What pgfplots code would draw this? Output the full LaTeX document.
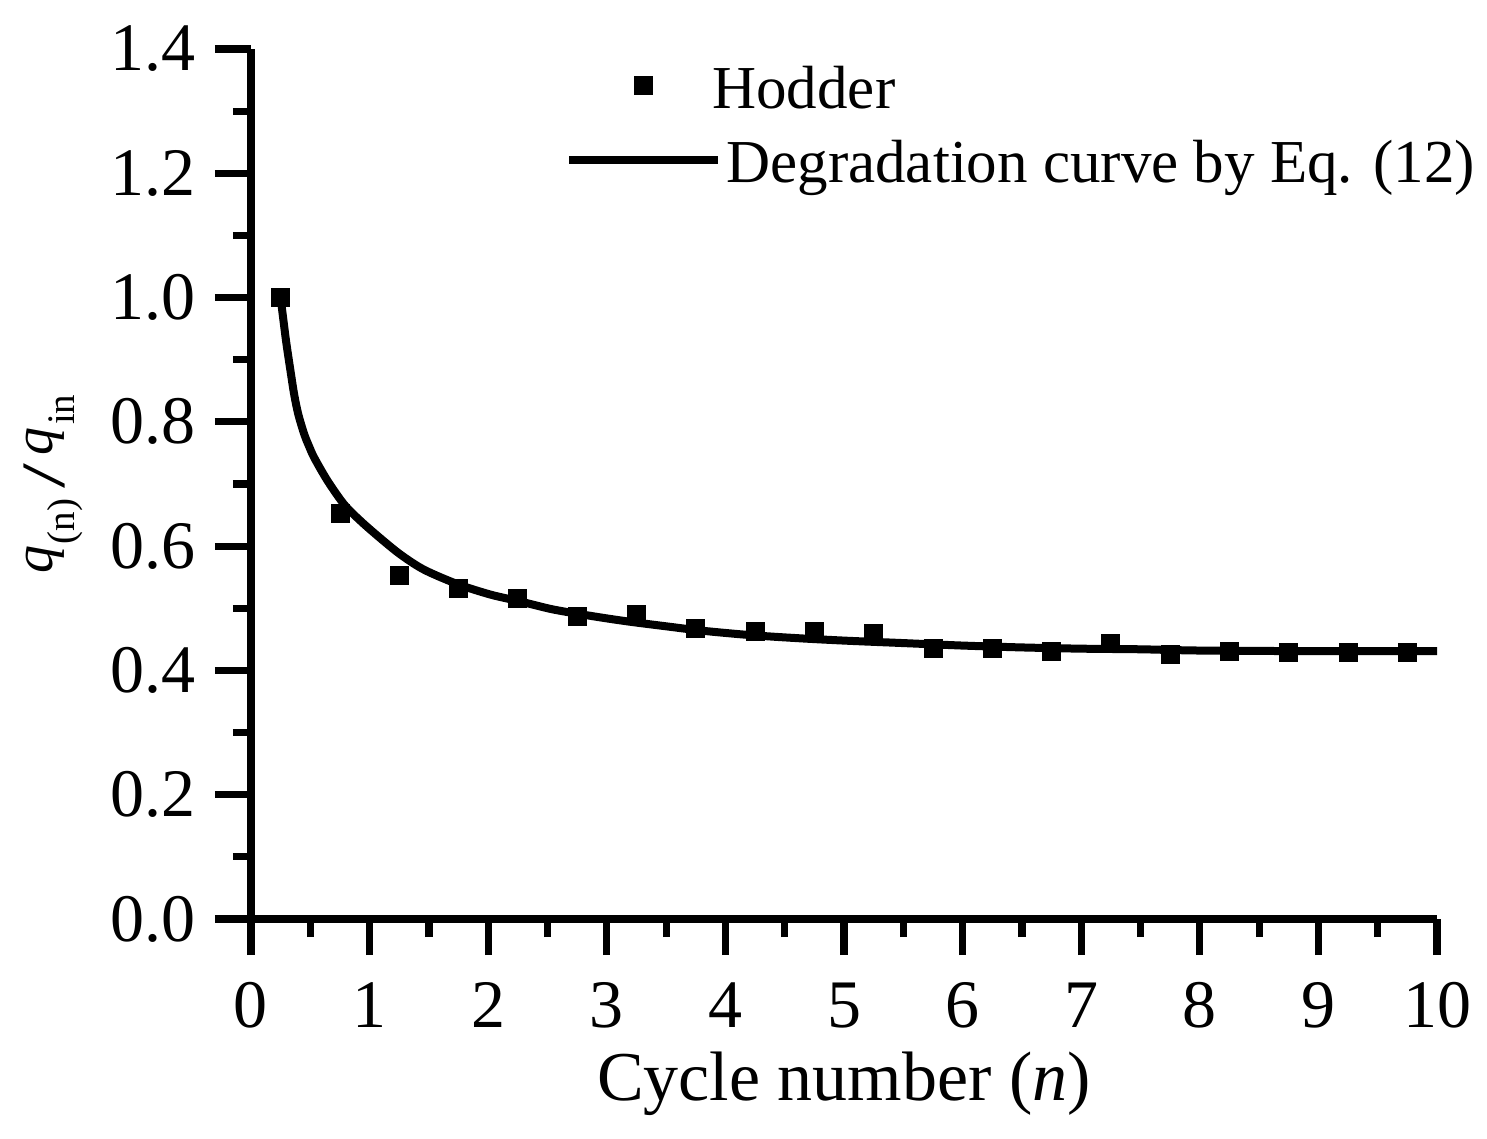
\documentclass[border=0pt]{standalone}
\usepackage{fontspec}
\setmainfont{Liberation Serif}
\usepackage{graphicx}
\usepackage{pgfplots}
\pgfplotsset{compat=1.18}
\newcommand{\sub}[1]{\raisebox{-11pt}{\fontsize{19.5}{22}\selectfont #1}}
\begin{document}
\begin{tikzpicture}
\begin{axis}[
  scale only axis, width=593pt, height=435pt,
  xmin=0, xmax=10, ymin=0, ymax=1.4,
  axis lines=left,
  axis line style={line width=3.6pt,-},
  xtick={0,1,...,10}, ytick={0,0.2,0.4,0.6,0.8,1.0,1.2,1.4},
  minor x tick num=1, minor y tick num=1,
  tick align=outside,
  major tick length=18pt, minor tick length=9pt,
  every tick/.style={line width=3.6pt,black},
  /pgf/number format/assume math mode=true,
  ticklabel style={font=\fontsize{34}{40}\selectfont, inner sep=0pt},
  yticklabel style={anchor=east, xshift=-9.5pt,
    /pgf/number format/.cd, fixed, fixed zerofill, precision=1},
  xticklabel style={anchor=base, yshift=-36pt,
    /pgf/number format/.cd, fixed, precision=0},
  xlabel={Cycle number (\textit{n})},
  xlabel style={font=\fontsize{35}{40}\selectfont, at={(rel axis cs:0.5,0)}, anchor=base, yshift=-90.5pt, inner sep=0pt},
  ylabel={\textit{q}\hspace{0.5pt}\sub{(n)}\hspace{5pt}\raisebox{-6pt}{\scalebox{1.6}[1.1]{/}}\hspace{4pt}\textit{q}\hspace{1.5pt}\sub{in}},
  ylabel style={font=\fontsize{28}{32}\selectfont, at={(rel axis cs:0,0.5)}, anchor=base, yshift=99pt, inner sep=0pt},
  legend style={draw=none, fill=none, font=\fontsize{30.5}{36}\selectfont,
    at={(rel axis cs:0.2648,0.981)}, anchor=north west, inner sep=0pt,
    nodes={inner sep=0pt}, row sep=14.5pt,
    /tikz/every odd column/.append style={column sep=2.5pt}},
  legend cell align=left,
  legend image code/.code={\draw[mark repeat=2,mark phase=2,#1] plot coordinates {(0pt,1.5pt) (37pt,1.5pt) (74pt,1.5pt)};},
]
\addplot[only marks, mark=square*, mark size=4.5pt, black] coordinates {
(0.25,1.000) (0.75,0.652) (1.25,0.553) (1.75,0.532) (2.25,0.516)
(2.75,0.487) (3.25,0.490) (3.75,0.468) (4.25,0.463) (4.75,0.463)
(5.25,0.459) (5.75,0.436) (6.25,0.436) (6.75,0.431) (7.25,0.443)
(7.75,0.426) (8.25,0.431) (8.75,0.429) (9.25,0.429) (9.75,0.429)
};
\addlegendentry{\hspace{-7pt}Hodder}
\addplot[smooth, black, line width=4pt] coordinates {
(0.253,0.995) (0.295,0.931) (0.337,0.877) (0.365,0.843) (0.399,0.812)
(0.449,0.780) (0.491,0.760) (0.534,0.742) (0.646,0.705) (0.786,0.667)
(0.927,0.640) (1.095,0.612) (1.264,0.586) (1.46,0.562) (1.74,0.539)
(2.02,0.522) (2.27,0.511) (2.55,0.498) (2.89,0.487) (3.17,0.479)
(3.5,0.471) (3.8,0.464) (4.2,0.457) (4.6,0.452) (5.0,0.448)
(5.5,0.444) (6.0,0.440) (6.5,0.437) (7.0,0.435) (7.5,0.434)
(8.0,0.432) (9.0,0.431) (10.0,0.431)
};
\addlegendentry{Degradation curve by Eq. (12)}
\coordinate (bl) at (rel axis cs:0,0);
\coordinate (tr) at (rel axis cs:1,1);
\end{axis}
\pgfresetboundingbox
\path ([shift={(-125.5pt,-110pt)}]bl) rectangle ([shift={(25pt,24.5pt)}]tr);
\end{tikzpicture}
\end{document}
